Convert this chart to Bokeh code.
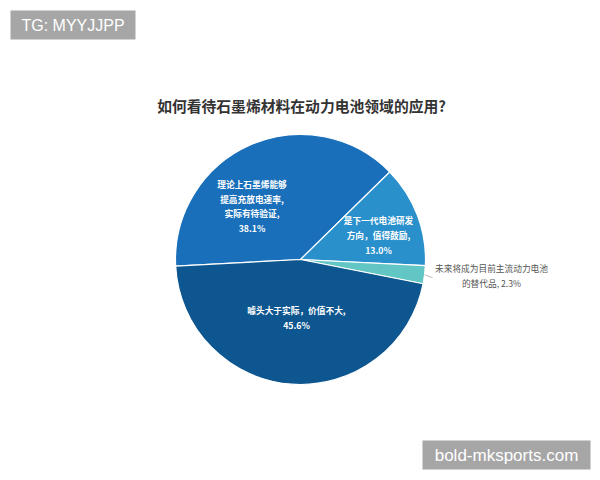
from bokeh.plotting import figure
from bokeh.models import Range1d
from bokeh.core.properties import value
from bokeh.embed import file_html
from bokeh.resources import INLINE
import numpy as np

# ---- data ----
title = "如何看待石墨烯材料在动力电池领域的应用?"
categories = [
    "理论上石墨烯能够\n提高充放电速率,\n实际有待验证,",
    "是下一代电池研发\n方向，值得鼓励,",
    "未来将成为目前主流动力电池\n的替代品,",
    "噱头大于实际，价值不大,",
]
values = [38.1, 13.0, 2.3, 45.6]
colors = ["#1a6fba", "#2a90cc", "#62c6c4", "#0e5690"]
label_sep = ["\n", "\n", " ", "\n"]
label_colors = ["white", "white", "#555555", "white"]
label_styles = ["bold", "bold", "normal", "bold"]
watermark_top = "TG: MYYJJPP"
watermark_bottom = "bold-mksports.com"

# ---- layout (screenshot pixel coordinates; y is negated) ----
W, H = 592, 472
cx, cy, r = 300, 259, 125
start_deg = 183.0
label_pos = [(251.5, 206), (378, 235), (491, 275.5), (296, 317.5)]

p = figure(width=W, height=H, output_backend="svg", toolbar_location=None,
           x_range=Range1d(0, W), y_range=Range1d(-H, 0),
           min_border=0)
p.axis.visible = False
p.grid.visible = False
p.outline_line_color = None
p.background_fill_color = "white"
p.border_fill_color = "white"

# pie wedges, clockwise from start_deg
tot = sum(values)
cum = np.concatenate([[0], np.cumsum(values)]) / tot * 360.0
starts = [np.deg2rad(start_deg - cum[i + 1]) for i in range(len(values))]
ends = [np.deg2rad(start_deg - cum[i]) for i in range(len(values))]
p.wedge(x=[cx] * len(values), y=[-cy] * len(values), radius=r,
        start_angle=starts, end_angle=ends,
        fill_color=colors, line_color="white", line_width=1.2)

# leader line for the small slice
mid = (starts[2] + ends[2]) / 2
lx0 = cx + r * np.cos(mid)
ly0 = cy - r * np.sin(mid)
p.line(x=[lx0, lx0 + 8], y=[-ly0, -(ly0 + 3)], line_color="#bbbbbb", line_width=1)

# slice labels
texts = [f"{c}{s}{v:.1f}%" for c, s, v in zip(categories, label_sep, values)]
p.text(x=[q[0] for q in label_pos], y=[-q[1] for q in label_pos], text=texts,
       text_color=label_colors, text_align="center", text_baseline="middle",
       text_font=value("Noto Sans CJK SC"), text_font_size="8.7px",
       text_font_style=label_styles, text_line_height=1.15)

# title
p.text(x=[301], y=[-105], text=[title], text_color="#333333",
       text_align="center", text_baseline="middle",
       text_font=value("Noto Sans CJK SC"), text_font_style="bold",
       text_font_size="14.8px")

# watermark boxes
p.quad(left=[10, 422], right=[135, 590], top=[-10, -440], bottom=[-39, -469],
       fill_color="#a6a6a6", line_color=None)
p.text(x=[72.5, 506], y=[-24.5, -454.5], text=[watermark_top, watermark_bottom],
       text_color="white", text_align="center", text_baseline="middle",
       text_font=value("Liberation Sans"), text_font_size=["16px", "17px"])

open("out.html", "w").write(file_html(p, INLINE))
